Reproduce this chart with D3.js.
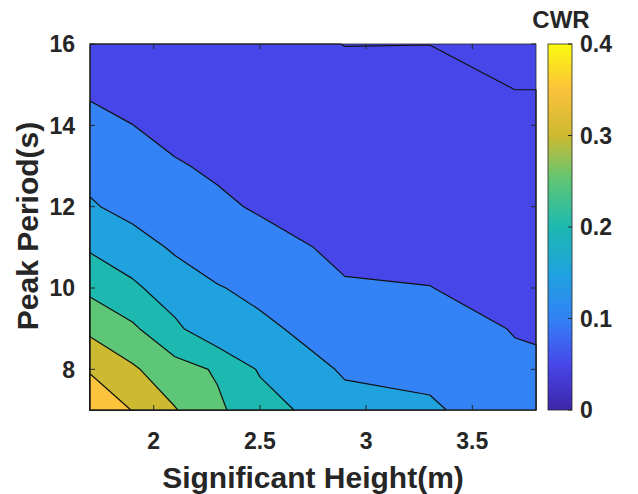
<!DOCTYPE html>
<html lang="en">
<head>
<meta charset="UTF-8">
<title>CWR contour</title>
<style>
  *{ margin:0; padding:0 }
  html, body { width:638px; height:494px; background:#fff; overflow:hidden }
  svg { display:block; font-family:"Liberation Sans", Arial, Helvetica, sans-serif; font-weight:bold }
</style>
</head>
<body>
<svg id="chart" width="638" height="494"></svg>
<script src="https://cdn.jsdelivr.net/npm/d3@7/dist/d3.min.js"></script>
<script>
// grid columns: significant height (m)
const heights = [1.7, 1.9, 2.1, 2.3, 2.5, 2.9, 3.3, 3.7, 3.8];
// grid rows: peak period (s)
const periods = [7, 8, 9, 10, 11, 12, 13, 14, 15, 16];
// CWR values, one row per peak period
const cwr = [
  [0.400, 0.348, 0.303, 0.258, 0.222, 0.167, 0.157,  0.121, 0.122],
  [0.344, 0.307, 0.268, 0.245, 0.195, 0.144, 0.138,  0.107, 0.106],
  [0.289, 0.258, 0.210, 0.163, 0.160, 0.125, 0.119,  0.098, 0.096],
  [0.239, 0.209, 0.174, 0.153, 0.138, 0.104, 0.1005, 0.090, 0.089],
  [0.194, 0.170, 0.144, 0.123, 0.117, 0.090, 0.092,  0.082, 0.081],
  [0.155, 0.135, 0.124, 0.108, 0.095, 0.082, 0.083,  0.073, 0.073],
  [0.134, 0.118, 0.104, 0.093, 0.083, 0.075, 0.075,  0.065, 0.065],
  [0.112, 0.1004,0.086, 0.082, 0.074, 0.067, 0.067,  0.057, 0.057],
  [0.092, 0.083, 0.075, 0.072, 0.066, 0.058, 0.058,  0.049, 0.049],
  [0.072, 0.069, 0.066, 0.064, 0.060, 0.0495,0.0498, 0.045, 0.044]
];
const levels  = [0.05, 0.1, 0.15, 0.2, 0.25, 0.3, 0.35];
const xTicks  = [2, 2.5, 3, 3.5];
const yTicks  = [8, 10, 12, 14, 16];
const cbTicks = [0, 0.1, 0.2, 0.3, 0.4];
// parula-like colour stops at 0, 0.05 ... 0.4
const parula = ["#3e26a8","#4747e9","#3382f6","#1fa2de","#1db9b0","#5dc677","#cdba31","#fbc23b","#f9fb0e"];

const svg = d3.select("#chart");
const L = 90, R = 536, T = 44, B = 410;
const ink = "#262626";

const x = d3.scaleLinear().domain([1.7, 3.8]).range([L, R]);
const y = d3.scaleLinear().domain([7, 16]).range([B, T]);
const color = d3.scaleLinear().domain(parula.map((d,i)=>i*0.05)).range(parula).interpolate(d3.interpolateRgb);

// grid index -> data
const nx = heights.length, ny = periods.length;
const ix = d3.scaleLinear().domain(d3.range(nx)).range(heights);
const iy = d3.scaleLinear().domain(d3.range(ny)).range(periods);
const clamp = (v,a,b)=>Math.max(a,Math.min(b,v));
const proj = d3.geoTransform({
  point(px, py){
    this.stream.point(x(ix(clamp(px-0.5,0,nx-1))), y(iy(clamp(py-0.5,0,ny-1))));
  }
});
const path = d3.geoPath(proj);

const values = cwr.flat();
const contours = d3.contours().size([nx, ny]).thresholds(levels)(values);

// filled bands (region under the lowest level shares its colour, as in the picture)
svg.append("rect").attr("x",L).attr("y",T).attr("width",R-L).attr("height",B-T)
  .attr("fill", color(levels[0]));
svg.append("g").selectAll("path").data(contours).join("path")
  .attr("d", path)
  .attr("fill", d=>color(d.value))
  .attr("stroke", "#111").attr("stroke-width", 1.2).attr("stroke-linejoin","round");

// axes box + ticks
const g = svg.append("g").attr("stroke", ink).attr("fill","none");
g.append("rect").attr("x",L).attr("y",T).attr("width",R-L).attr("height",B-T).attr("stroke-width",0.8);
xTicks.forEach(v=>{
  g.append("line").attr("x1",x(v)).attr("x2",x(v)).attr("y1",B).attr("y2",B-5);
  g.append("line").attr("x1",x(v)).attr("x2",x(v)).attr("y1",T).attr("y2",T+5);
});
yTicks.forEach(v=>{
  g.append("line").attr("x1",L).attr("x2",L+5).attr("y1",y(v)).attr("y2",y(v));
  g.append("line").attr("x1",R).attr("x2",R-5).attr("y1",y(v)).attr("y2",y(v));
});

svg.append("g").selectAll("text").data(xTicks).join("text")
  .attr("x", d=>x(d)).attr("y", 449).attr("text-anchor","middle")
  .attr("font-size",23).attr("fill",ink).text(d=>d);
svg.append("g").selectAll("text").data(yTicks).join("text")
  .attr("x", 75).attr("y", d=>y(d)).attr("dy","0.36em").attr("text-anchor","end")
  .attr("font-size",23).attr("fill",ink).text(d=>d);

svg.append("text").attr("x",313).attr("y",488).attr("text-anchor","middle")
  .attr("font-size",30).attr("fill",ink).text("Significant Height(m)");
svg.append("text").attr("transform","translate(38,226) rotate(-90)").attr("text-anchor","middle")
  .attr("font-size",30).attr("fill",ink).text("Peak Period(s)");

// colorbar
const cbX = 548, cbW = 24;
const cy = d3.scaleLinear().domain([0, 0.4]).range([B, T]);
const grad = svg.append("defs").append("linearGradient").attr("id","cbg")
  .attr("x1",0).attr("y1",1).attr("x2",0).attr("y2",0);
grad.selectAll("stop").data(d3.range(0, 1.0001, 0.025)).join("stop")
  .attr("offset", d=>d).attr("stop-color", d=>color(d*0.4));
svg.append("rect").attr("x",cbX).attr("y",T).attr("width",cbW).attr("height",B-T)
  .attr("fill","url(#cbg)").attr("stroke",ink).attr("stroke-width",0.8);
svg.append("g").selectAll("line").data(cbTicks).join("line")
  .attr("x1",cbX+cbW).attr("x2",cbX+cbW-4).attr("y1",d=>cy(d)).attr("y2",d=>cy(d))
  .attr("stroke",ink);
svg.append("g").selectAll("text").data(cbTicks).join("text")
  .attr("x", cbX+cbW+8).attr("y", d=>cy(d)).attr("dy","0.36em")
  .attr("font-size",23).attr("fill",ink).text(d=>d);
svg.append("text").attr("x",561).attr("y",28).attr("text-anchor","middle")
  .attr("font-size",24).attr("fill",ink).text("CWR");
</script>
</body>
</html>
